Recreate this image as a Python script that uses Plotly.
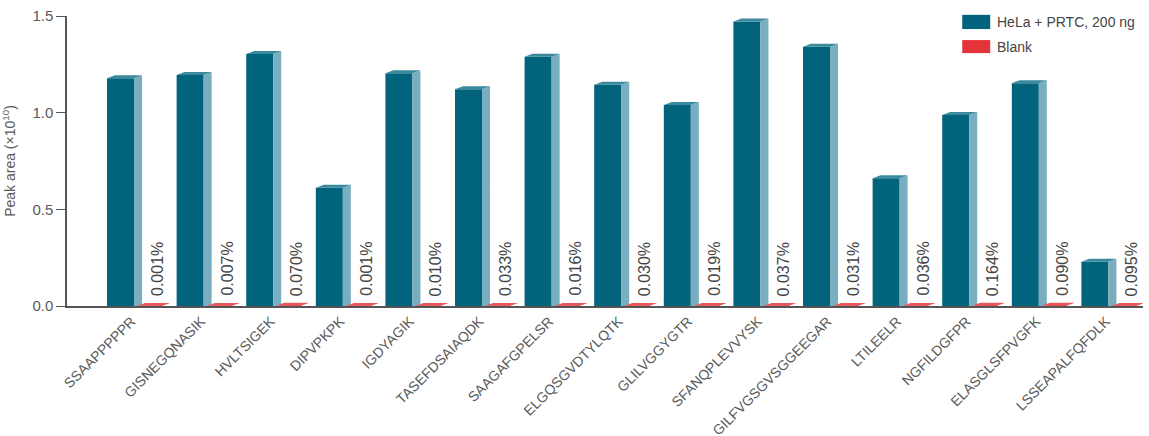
import plotly.graph_objects as go

# Peptides (x categories)
PEPTIDES = [
    "SSAAPPPPPR", "GISNEGQNASIK", "HVLTSIGEK", "DIPVPKPK", "IGDYAGIK",
    "TASEFDSAIAQDK", "SAAGAFGPELSR", "ELGQSGVDTYLQTK", "GLILVGGYGTR",
    "SFANQPLEVVYSK", "GILFVGSGVSGGEEGAR", "LTILEELR", "NGFILDGFPR",
    "ELASGLSFPVGFK", "LSSEAPALFQFDLK",
]
# Peak area (x10^10), HeLa + PRTC 200 ng
HELA = [1.178, 1.195, 1.304, 0.612, 1.204, 1.122, 1.290, 1.145, 1.040,
        1.472, 1.341, 0.661, 0.988, 1.153, 0.229]
# Blank carry-over, % of the HeLa peak area
BLANK_PCT = ["0.001", "0.007", "0.070", "0.001", "0.010", "0.033", "0.016",
             "0.030", "0.019", "0.037", "0.031", "0.036", "0.164", "0.090",
             "0.095"]
SERIES = ["HeLa + PRTC, 200 ng", "Blank"]
Y_TICKS = [0.0, 0.5, 1.0, 1.5]

TEAL = "#02647c"
TEAL_SIDE = "#78aebf"
TEAL_TOP = "#3b899d"
RED = "#e3343a"
RED_TOP = "#e8575b"
AXIS = "#555555"
TEXT = "#5a5a5a"
FONT = "Liberation Sans, Arial, Helvetica, sans-serif"

# geometry of the fake 3-D look (data units)
DX, DY = 0.115, 0.0155
T_OFF, T_W = -0.438, 0.388
R_OFF, R_W = -0.007, 0.36

idx = list(range(len(PEPTIDES)))
blank = [h * float(p) / 100 for h, p in zip(HELA, BLANK_PCT)]


def faces(values, off, width):
    side_x, side_y, top_x, top_y = [], [], [], []
    for i, v in zip(idx, values):
        xl, xr = i + off, i + off + width
        side_x += [xr, xr + DX, xr + DX, xr, xr, None]
        side_y += [0, 0, v + DY, v, 0, None]
        top_x += [xl, xl + DX, xr + DX, xr, xl, None]
        top_y += [v, v + DY, v + DY, v, v, None]
    return side_x, side_y, top_x, top_y


fig = go.Figure()
fig.add_bar(x=idx, y=HELA, offset=T_OFF, width=T_W, marker_color=TEAL,
            marker_line_width=0, name=SERIES[0], hoverinfo="skip")
sx, sy, tx, ty = faces(HELA, T_OFF, T_W)
fig.add_scatter(x=sx, y=sy, fill="toself", fillcolor=TEAL_SIDE, mode="none",
                hoverinfo="skip")
fig.add_scatter(x=tx, y=ty, fill="toself", fillcolor=TEAL_TOP, mode="none",
                hoverinfo="skip")
fig.add_bar(x=idx, y=blank, offset=R_OFF, width=R_W, marker_color=RED,
            marker_line_width=0, name=SERIES[1], hoverinfo="skip")
sx, sy, tx, ty = faces(blank, R_OFF, R_W)
fig.add_scatter(x=tx, y=ty, fill="toself", fillcolor=RED_TOP, mode="none",
                hoverinfo="skip")

for i, p in zip(idx, BLANK_PCT):
    fig.add_annotation(x=i + 0.28, y=0, yshift=8, text=f"{p}%", textangle=-90,
                       xanchor="center", yanchor="bottom", showarrow=False,
                       font=dict(size=16, color="#444444"))

# hand-made legend with wide swatches
for name, color, y0, y1 in [(SERIES[0], TEAL, 0.955, 1.004), (SERIES[1], RED, 0.872, 0.917)]:
    fig.add_shape(type="rect", xref="paper", yref="paper", x0=0.832, x1=0.858,
                  y0=y0, y1=y1, fillcolor=color, line_width=0)
    fig.add_annotation(xref="paper", yref="paper", x=0.8625, y=(y0 + y1) / 2,
                       text=name, showarrow=False, xanchor="left", yanchor="middle",
                       font=dict(size=14, color="#444444"))

fig.update_xaxes(range=[-1.013, 14.447], tickvals=idx, ticktext=PEPTIDES,
                 tickangle=-45, showline=True, linecolor=AXIS, linewidth=1.5,
                 ticks="", showgrid=False, zeroline=False, automargin=False,
                 ticklabelshift=-6, tickfont=dict(size=14, color=TEXT))
fig.update_yaxes(range=[0, 1.5006], tickvals=Y_TICKS, tickformat=".1f",
                 showline=True, linecolor=AXIS, linewidth=1.5, ticks="outside",
                 ticklen=9, tickcolor=AXIS, showgrid=False, zeroline=False,
                 automargin=False, tickfont=dict(size=15, color=TEXT),
                 title=dict(text="Peak area (×10<sup>10</sup>)", standoff=14,
                            font=dict(size=14, color=TEXT)))
fig.update_layout(
    width=1149, height=436, barmode="overlay", showlegend=False,
    margin=dict(l=67, r=6, t=16, b=130),
    plot_bgcolor="white", paper_bgcolor="white",
    font=dict(family=FONT, color=TEXT),
)
# drop the default 8 px body margin so the figure sits at the page corner
fig.write_html("out.html", config={"displayModeBar": False},
               post_script="document.body.style.margin='0';")
